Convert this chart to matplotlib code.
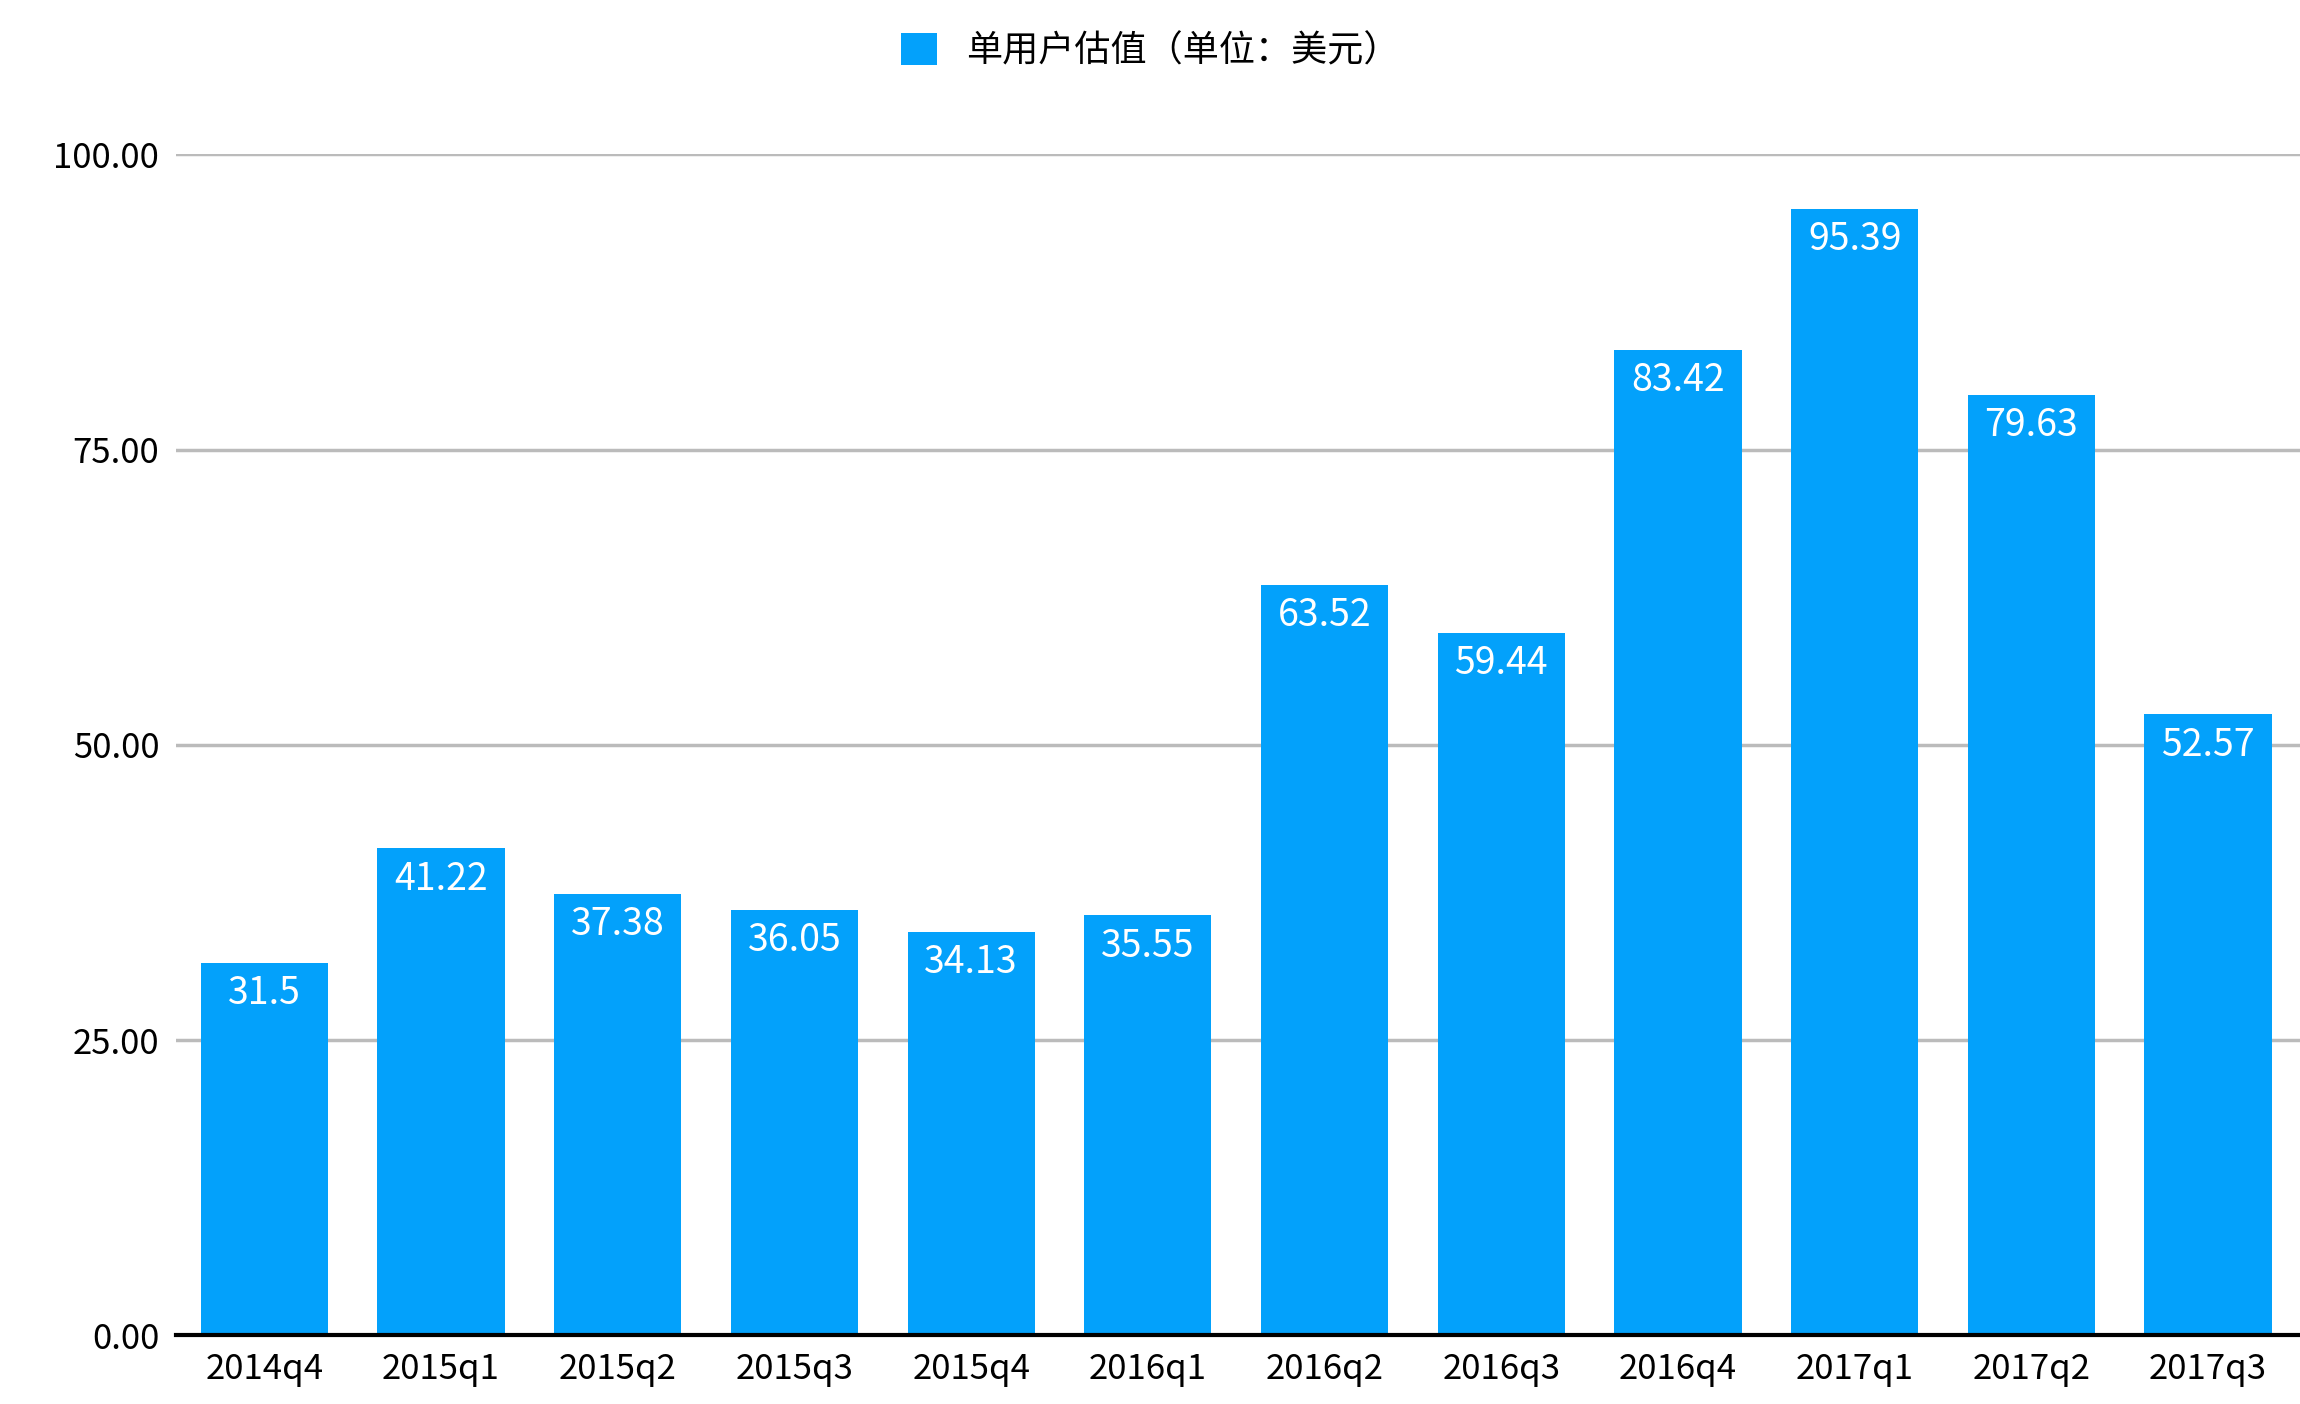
import matplotlib
matplotlib.use("Agg")
import matplotlib.pyplot as plt
import numpy as np

plt.rcParams["font.sans-serif"] = ["Noto Sans CJK SC", "DejaVu Sans"]
plt.rcParams["font.family"] = "sans-serif"

quarters = ["2014q4", "2015q1", "2015q2", "2015q3", "2015q4", "2016q1",
            "2016q2", "2016q3", "2016q4", "2017q1", "2017q2", "2017q3"]
values = [31.5, 41.22, 37.38, 36.05, 34.13, 35.55,
          63.52, 59.44, 83.42, 95.39, 79.63, 52.57]
labels = ["31.5", "41.22", "37.38", "36.05", "34.13", "35.55",
          "63.52", "59.44", "83.42", "95.39", "79.63", "52.57"]
yticks = [0, 25, 50, 75, 100]
series_name = "单用户估值（单位：美元）"

BLUE = "#03A1FB"

fig = plt.figure(figsize=(23, 14.04), dpi=100)
ax = fig.add_axes([0.0765, 0.049, 0.9235, 0.841])

x = np.arange(len(quarters))
bars = ax.bar(x, values, 0.72, color=BLUE, label=series_name, zorder=3)
for b, t in zip(bars, labels):
    ax.annotate(t, (b.get_x() + b.get_width() / 2, b.get_height()),
                xytext=(0, -8), textcoords="offset points", ha="center", va="top",
                fontsize=27, color="white", zorder=4)

ax.set_xlim(-0.5, 11.52)
ax.set_ylim(0, 100)
ax.set_xticks(x)
ax.set_xticklabels(quarters, fontsize=25)
ax.set_yticks(yticks)
ax.set_yticklabels([f"{v:.2f}" for v in yticks], fontsize=25)
ax.tick_params(length=0, pad=12)
ax.grid(axis="y", color="#BBBBBB", linewidth=2.5, zorder=0)
for s in ["top", "right", "left"]:
    ax.spines[s].set_visible(False)
ax.spines["bottom"].set_linewidth(3)
ax.spines["bottom"].set_zorder(5)

fig.legend(handles=[bars], labels=[series_name], loc="upper center",
           bbox_to_anchor=(0.5, 1.0), frameon=False, fontsize=26,
           handlelength=1.0, handleheight=1.0, handletextpad=0.8)

fig.savefig("out.png", dpi=100)
